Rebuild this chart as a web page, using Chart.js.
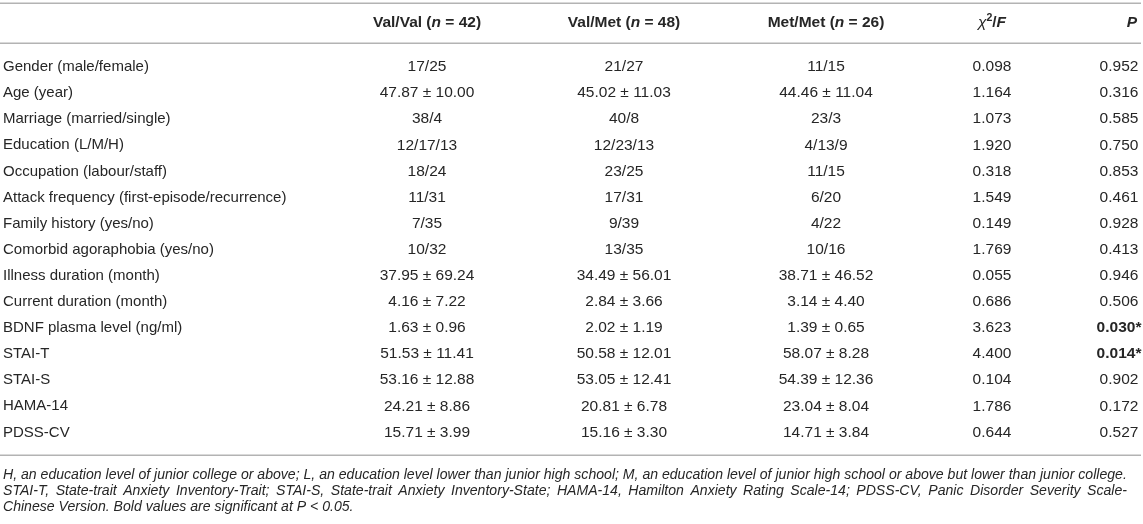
<!DOCTYPE html>
<html>
<head>
<meta charset="utf-8">
<title>BDNF Val66Met genotype groups</title>
<script src="https://cdn.jsdelivr.net/npm/chart.js@4.4.1/dist/chart.umd.min.js"></script>
<style>
    html, body { margin: 0; padding: 0; background: #fff; }
    #wrap { position: relative; width: 1143px; height: 524px; }
</style>
</head>
<body>
<div id="wrap"><canvas id="table-chart"></canvas></div>
<script>
// --- Table data ---
const categories = [
    'Gender (male/female)', 'Age (year)', 'Marriage (married/single)', 'Education (L/M/H)',
    'Occupation (labour/staff)', 'Attack frequency (first-episode/recurrence)', 'Family history (yes/no)',
    'Comorbid agoraphobia (yes/no)', 'Illness duration (month)', 'Current duration (month)',
    'BDNF plasma level (ng/ml)', 'STAI-T', 'STAI-S', 'HAMA-14', 'PDSS-CV'
];
const groupNames = ['Val/Val', 'Val/Met', 'Met/Met'];
const groupN = [42, 48, 26];
const valVal = ['17/25', '47.87 ± 10.00', '38/4', '12/17/13', '18/24', '11/31', '7/35', '10/32',
    '37.95 ± 69.24', '4.16 ± 7.22', '1.63 ± 0.96', '51.53 ± 11.41', '53.16 ± 12.88', '24.21 ± 8.86', '15.71 ± 3.99'];
const valMet = ['21/27', '45.02 ± 11.03', '40/8', '12/23/13', '23/25', '17/31', '9/39', '13/35',
    '34.49 ± 56.01', '2.84 ± 3.66', '2.02 ± 1.19', '50.58 ± 12.01', '53.05 ± 12.41', '20.81 ± 6.78', '15.16 ± 3.30'];
const metMet = ['11/15', '44.46 ± 11.04', '23/3', '4/13/9', '11/15', '6/20', '4/22', '10/16',
    '38.71 ± 46.52', '3.14 ± 4.40', '1.39 ± 0.65', '58.07 ± 8.28', '54.39 ± 12.36', '23.04 ± 8.04', '14.71 ± 3.84'];
const chiF = [0.098, 1.164, 1.073, 1.920, 0.318, 1.549, 0.149, 1.769, 0.055, 0.686, 3.623, 4.400, 0.104, 1.786, 0.644];
const pValues = [0.952, 0.316, 0.585, 0.750, 0.853, 0.461, 0.928, 0.413, 0.946, 0.506, 0.030, 0.014, 0.902, 0.172, 0.527];
const footnotes = [
    'H, an education level of junior college or above; L, an education level lower than junior high school; M, an education level of junior high school or above but lower than junior college.',
    'STAI-T, State-trait Anxiety Inventory-Trait; STAI-S, State-trait Anxiety Inventory-State; HAMA-14, Hamilton Anxiety Rating Scale-14; PDSS-CV, Panic Disorder Severity Scale-',
    'Chinese Version. Bold values are significant at P < 0.05.'
];

// --- Layout (x in px along the hidden x axis, y in row units) ---
const FONT = '"Liberation Sans", Arial, Helvetica, sans-serif';
const SIZE = 15.5;        // header + cells
const LABEL_SIZE = 15;    // row names
const TEXT_COLOR = '#262626';
const RULE_COLOR = '#b3b3b3';
const labelX = 3;
const colX = [427, 624, 826, 992, 1119];
const headerY = -1.69;
const ruleY = [-2.45, -0.92, 14.86];
const footY = [15.62, 16.24, 16.85];
const footLeft = 3, footRight = 1127;

const columns = [valVal, valMet, metMet,
    chiF.map(v => v.toFixed(3)),
    pValues.map(v => v.toFixed(3) + (v < 0.05 ? '*' : ''))];

// one invisible point per cell, positioned by the scales
const cellPoints = [];
columns.forEach((col, c) => {
    col.forEach((text, r) => {
        cellPoints.push({ x: colX[c], y: r, text: text, bold: c === 4 && pValues[r] < 0.05 });
    });
});

function fontFor(seg, size) {
    return (seg.italic ? 'italic ' : '') + (seg.bold ? 'bold ' : '') + size + 'px ' + FONT;
}

// draw a run of differently styled pieces of text
function drawRich(ctx, segs, x, y, align) {
    let total = 0;
    segs.forEach(s => {
        ctx.font = fontFor(s, s.sup ? SIZE * 0.68 : SIZE);
        s.w = ctx.measureText(s.text).width;
        total += s.w;
    });
    let cx = align === 'center' ? x - total / 2 : (align === 'right' ? x - total : x);
    ctx.textAlign = 'left';
    segs.forEach(s => {
        ctx.font = fontFor(s, s.sup ? SIZE * 0.68 : SIZE);
        ctx.fillText(s.text, cx, s.sup ? y - SIZE * 0.33 : y);
        cx += s.w;
    });
}

const tablePlugin = {
    id: 'tableText',
    afterDatasetsDraw(chart) {
        const ctx = chart.ctx;
        const xs = chart.scales.x, ys = chart.scales.y;
        const left = xs.getPixelForValue(0), right = xs.getPixelForValue(1143);
        ctx.save();

        // horizontal rules
        ctx.strokeStyle = RULE_COLOR;
        ctx.lineWidth = 1.5;
        ruleY.forEach(v => {
            const py = Math.round(ys.getPixelForValue(v)) + 0.25;
            ctx.beginPath();
            ctx.moveTo(left, py);
            ctx.lineTo(right - 2, py);
            ctx.stroke();
        });

        ctx.fillStyle = TEXT_COLOR;
        ctx.textBaseline = 'middle';

        // header row
        const hy = ys.getPixelForValue(headerY);
        groupNames.forEach((g, i) => {
            drawRich(ctx, [
                { text: g + ' (', bold: true },
                { text: 'n', bold: true, italic: true },
                { text: ' = ' + groupN[i] + ')', bold: true }
            ], xs.getPixelForValue(colX[i]), hy, 'center');
        });
        drawRich(ctx, [
            { text: 'χ', italic: true },
            { text: '2', bold: true, sup: true },
            { text: '/', bold: true },
            { text: 'F', bold: true, italic: true }
        ], xs.getPixelForValue(colX[3]), hy, 'center');
        drawRich(ctx, [{ text: 'P', bold: true, italic: true }], xs.getPixelForValue(colX[4]) + 13, hy, 'center');

        // row labels
        ctx.textAlign = 'left';
        ctx.font = LABEL_SIZE + 'px ' + FONT;
        categories.forEach((name, r) => {
            ctx.fillText(name, xs.getPixelForValue(labelX), ys.getPixelForValue(r));
        });

        // cells, from the dataset elements
        const meta = chart.getDatasetMeta(0);
        ctx.textAlign = 'center';
        meta.data.forEach((pt, k) => {
            const cell = cellPoints[k];
            ctx.font = (cell.bold ? 'bold ' : '') + SIZE + 'px ' + FONT;
            ctx.fillText(cell.text, pt.x, pt.y);
        });

        // footnote, italic; size fitted so line one fills the width
        ctx.font = 'italic 13px ' + FONT;
        const fx0 = xs.getPixelForValue(footLeft), fx1 = xs.getPixelForValue(footRight);
        const fitSize = 13 * (fx1 - fx0) / ctx.measureText(footnotes[0]).width;
        ctx.font = 'italic ' + fitSize.toFixed(2) + 'px ' + FONT;
        ctx.textAlign = 'left';
        ctx.fillText(footnotes[0], fx0, ys.getPixelForValue(footY[0]));
        // second line is justified
        const words = footnotes[1].split(' ');
        const wordsW = words.reduce((s, w) => s + ctx.measureText(w).width, 0);
        const gap = (fx1 - fx0 - wordsW) / (words.length - 1);
        let wx = fx0;
        const y2 = ys.getPixelForValue(footY[1]);
        words.forEach(w => {
            ctx.fillText(w, wx, y2);
            wx += ctx.measureText(w).width + gap;
        });
        ctx.fillText(footnotes[2], fx0, ys.getPixelForValue(footY[2]));

        ctx.restore();
    }
};

const ctx = document.getElementById('table-chart').getContext('2d');
new Chart(ctx, {
    type: 'scatter',
    data: {
        datasets: [{
            data: cellPoints,
            pointRadius: 0,
            pointHoverRadius: 0
        }]
    },
    options: {
        responsive: true,
        maintainAspectRatio: false,
        animation: false,
        events: [],
        layout: { padding: 0 },
        scales: {
            x: { type: 'linear', min: 0, max: 1143, display: false },
            y: { type: 'linear', min: -2.567, max: 17.51, reverse: true, display: false }
        },
        plugins: { legend: { display: false }, tooltip: { enabled: false } }
    },
    plugins: [tablePlugin]
});
</script>
</body>
</html>
